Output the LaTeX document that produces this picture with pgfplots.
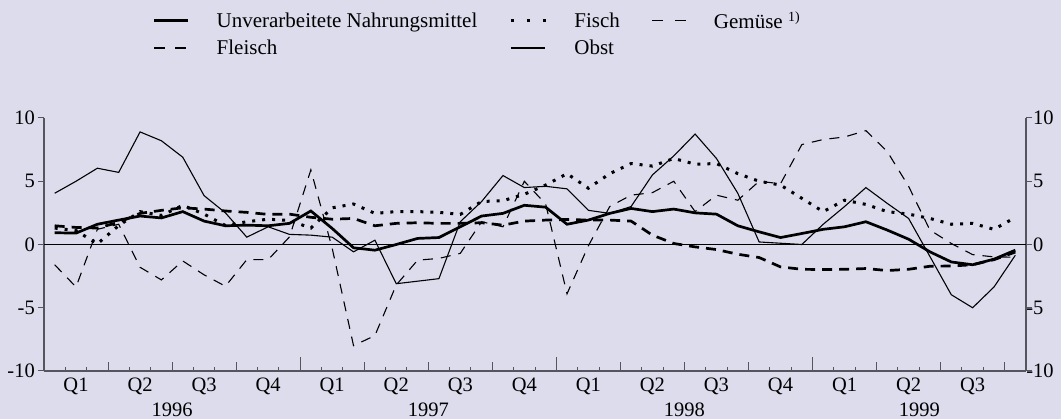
\documentclass[border=0pt]{standalone}
\usepackage{fontspec}
\setmainfont{Liberation Serif}
\usepackage{pgfplots}
\pgfplotsset{compat=1.18}
\usepackage{pgfplotstable}
\definecolor{bg}{RGB}{220,220,237}
\definecolor{axgray}{RGB}{85,85,95}

\pgfplotstableread{
x U F Fi O G
0.5 0.93 1.48 1.3 4.05 -1.6
1.5 0.90 1.35 1.1 5.0 -3.36
2.5 1.60 1.30 0.05 6.03 1.2
3.5 1.93 1.75 1.5 5.7 1.6
4.5 2.25 2.46 2.6 8.9 -1.8
5.5 2.10 2.70 2.3 8.2 -2.8
6.5 2.60 2.90 3.1 6.9 -1.3
7.5 1.85 2.80 2.4 3.86 -2.4
8.5 1.48 2.65 1.5 2.5 -3.3
9.5 1.53 2.54 1.8 0.58 -1.2
10.5 1.48 2.38 2.0 1.4 -1.2
11.5 1.67 2.40 1.9 0.8 0.6
12.5 2.65 2.15 1.3 0.74 5.9
13.5 1.27 2.0 2.9 0.58 -0.3
14.5 -0.26 2.06 3.2 -0.58 -8.0
15.5 -0.45 1.48 2.46 0.34 -7.2
16.5 0.0 1.67 2.6 -3.1 -3.2
17.5 0.48 1.72 2.6 -2.9 -1.24
18.5 0.55 1.67 2.54 -2.7 -1.1
19.5 1.4 1.67 2.38 1.8 -0.7
20.5 2.25 1.72 3.4 3.4 1.8
21.5 2.46 1.53 3.46 5.45 1.4
22.5 3.1 1.85 3.97 4.5 5.0
23.5 2.95 1.93 4.7 4.6 3.2
24.5 1.6 1.98 5.6 4.4 -3.9
25.5 1.93 1.93 4.45 2.7 -0.1
26.5 2.46 1.93 5.6 2.46 3.0
27.5 2.85 1.85 6.4 3.0 3.9
28.5 2.6 0.74 6.2 5.5 4.1
29.5 2.8 0.08 6.8 7.0 5.0
30.5 2.5 -0.19 6.35 8.73 2.6
31.5 2.4 -0.4 6.4 6.8 3.9
32.5 1.48 -0.77 5.6 4.05 3.5
33.5 1.0 -1.03 5.0 0.2 5.0
34.5 0.55 -1.77 4.7 0.1 4.8
35.5 0.87 -1.96 3.65 0.0 7.9
36.5 1.2 -1.98 2.6 1.6 8.3
37.5 1.4 -1.96 3.5 3.0 8.5
38.5 1.8 -1.9 3.17 4.5 9.0
39.5 1.14 -2.06 2.6 3.25 7.35
40.5 0.42 -1.96 2.4 2.06 4.6
41.5 -0.58 -1.72 2.06 -0.95 1.14
42.5 -1.38 -1.7 1.6 -3.97 0.08
43.5 -1.6 -1.6 1.67 -5.0 -0.8
44.5 -1.16 -1.2 1.2 -3.36 -0.98
45.5 -0.45 -0.6 2.14 -0.85 -1.0
}\data

\newcommand{\tfont}{\fontsize{20.5bp}{24bp}\selectfont}
\newcommand{\lfont}{\fontsize{21bp}{25bp}\selectfont}

\pgfplotsset{
  base/.style={
    at={(44bp,48bp)}, anchor=south west, scale only axis,
    width=982bp, height=253bp,
    xmin=0, xmax=46, ymin=-10, ymax=10,
    every tick/.style={axgray, line width=1bp},
    axis line style={axgray, line width=1.3bp},
  }
}

\begin{document}
\begin{tikzpicture}
\fill[bg] (0,0) rectangle (1061bp,419bp);

% left y axis
\begin{axis}[base,
  axis x line=none, axis y line*=left,
  ytick={-10,-5,0,5,10}, yticklabels={-10,-5,0,5,10},
  tick align=outside, major tick length=6bp,
  yticklabel style={font=\tfont, inner sep=1bp, xshift=-2bp},
]
\end{axis}

% right y axis
\begin{axis}[base,
  axis x line=none, axis y line*=right,
  ytick={-10,-5,0,5,10},
  yticklabels={\llap{-}10,\llap{-}5,0,5,10},
  tick align=outside, major tick length=6bp,
  yticklabel style={font=\tfont, inner sep=1bp, xshift=0bp},
]
\end{axis}

% main axis with data and x axis
\begin{axis}[base,
  clip=false,
  axis x line*=bottom, axis y line=none,
  tick align=inside,
  xtick={1,2,4,5,7,8,10,11,13,14,16,17,19,20,22,23,25,26,28,29,31,32,34,35,37,38,40,41,43,44},
  xticklabels={},
  major tick length=4.3bp,
  extra x ticks={3,6,9,15,18,21,27,30,33,39,42,45},
  extra x tick labels={},
  extra x tick style={major tick length=9.3bp},
  minor xtick={12,24,36},
  minor tick length=14.3bp,
  legend columns=3,
  legend cell align=left,
  legend style={draw=none, fill=none, inner sep=0pt, outer sep=0pt,
    at={(rel axis cs:0.111,1.42)}, anchor=north west,
    font=\lfont, row sep=10bp,
    nodes={inner sep=0pt},
    /tikz/every odd column/.append style={column sep=27bp},
    /tikz/every even column/.append style={column sep=32bp}},
  legend image code/.code={\draw[#1] (0bp,0bp) -- (34bp,0bp);},
]
\draw[black, line width=0.9bp] (axis cs:0,0) -- (axis cs:46,0);

\addplot[black, line width=2.7bp, no marks] table[x=x, y=U] {\data};
\addlegendentry{Unverarbeitete Nahrungsmittel}
\addplot[black, line width=3bp, no marks, dash pattern=on 3bp off 7bp,
  legend image code/.code={\draw[black, line width=3bp, dash pattern=on 3bp off 13bp] (0bp,0bp) -- (35bp,0bp);}] table[x=x, y=Fi] {\data};
\addlegendentry{Fisch}
\addplot[black, line width=1.1bp, no marks, dash pattern=on 10bp off 8bp,
  legend image code/.code={\draw[black, line width=1.1bp, dash pattern=on 11bp off 12bp] (0bp,0bp) -- (34bp,0bp);}] table[x=x, y=G] {\data};
\addlegendentry{Gemüse {\fontsize{14bp}{14bp}\selectfont\raisebox{7bp}{1)}}}
\addplot[black, line width=2.7bp, no marks, dash pattern=on 10bp off 7bp,
  legend image code/.code={\draw[black, line width=2.7bp, dash pattern=on 11bp off 10bp] (0bp,0bp) -- (32bp,0bp);}] table[x=x, y=F] {\data};
\addlegendentry{Fleisch}
\addplot[black, line width=1.1bp, no marks] table[x=x, y=O] {\data};
\addlegendentry{Obst}

% quarter labels
\foreach \q/\lab in {1.5/Q1,4.5/Q2,7.5/Q3,10.5/Q4,13.5/Q1,16.5/Q2,19.5/Q3,22.5/Q4,25.5/Q1,28.5/Q2,31.5/Q3,34.5/Q4,37.5/Q1,40.5/Q2,43.5/Q3}{
  \edef\temp{\noexpand\node[anchor=base, font=\noexpand\tfont, inner sep=0pt, yshift=-20bp] at (axis cs:\q,-10) {\lab};}
  \temp
}
\node[anchor=base, font=\tfont, inner sep=0pt, yshift=-45bp] at (axis cs:6,-10) {1996};
\node[anchor=base, font=\tfont, inner sep=0pt, yshift=-45bp] at (axis cs:18,-10) {1997};
\node[anchor=base, font=\tfont, inner sep=0pt, yshift=-45bp] at (axis cs:30,-10) {1998};
\node[anchor=base, font=\tfont, inner sep=0pt, yshift=-45bp] at (axis cs:41,-10) {1999};
\end{axis}

\pgfresetboundingbox
\path[use as bounding box] (0,0) rectangle (1061bp,419bp);
\end{tikzpicture}
\end{document}
